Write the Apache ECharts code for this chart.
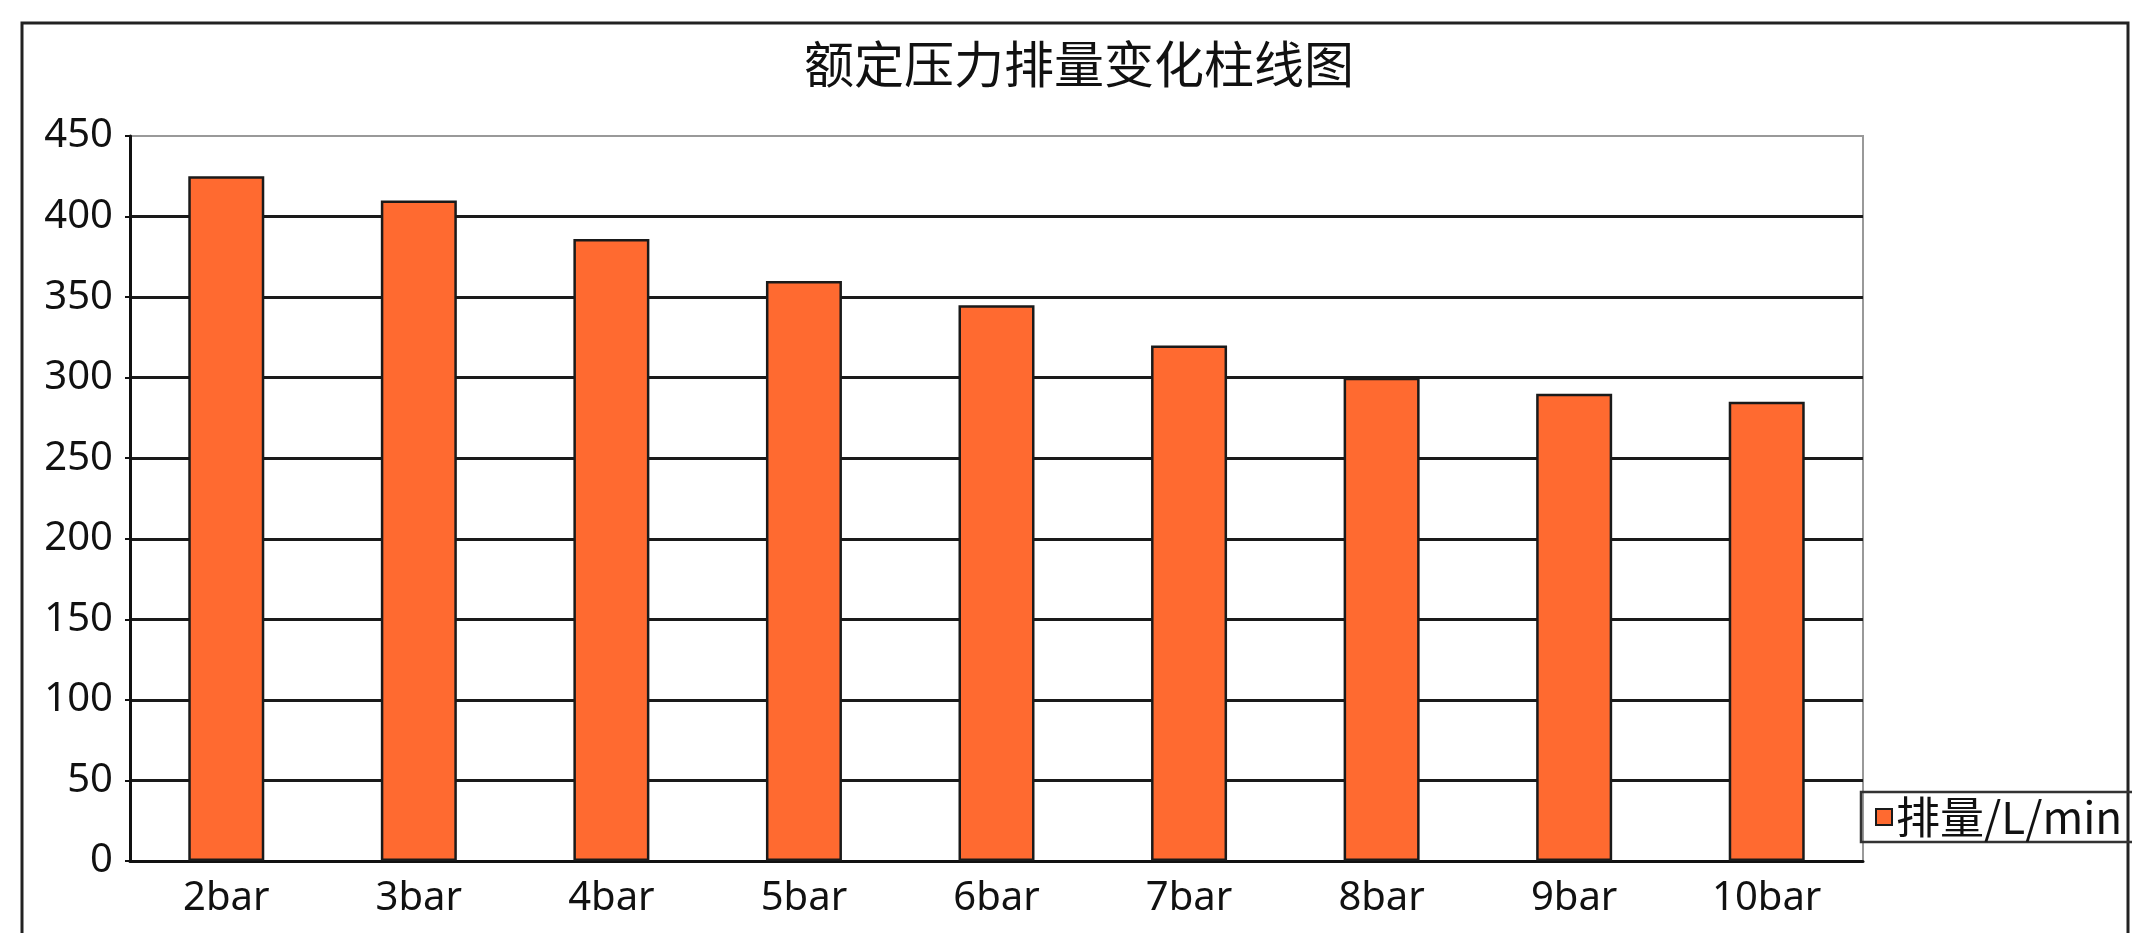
<!DOCTYPE html>
<html>
<head>
<meta charset="utf-8">
<script src="https://cdn.jsdelivr.net/npm/echarts@6/dist/echarts.min.js"></script>
<style>
    html, body { margin: 0; padding: 0; background: #fff; }
    #main { width: 2132px; height: 933px; }
</style>
</head>
<body>
<div id="main"></div>
<script>
    // 额定压力 -> 排量 数据
    var categories = ['2bar', '3bar', '4bar', '5bar', '6bar', '7bar', '8bar', '9bar', '10bar'];
    var flowValues = [425, 410, 386, 360, 345, 320, 300, 290, 285];
    var seriesName = '排量/L/min';
    var titleText = '额定压力排量变化柱线图';

    var chart = echarts.init(document.getElementById('main'));
    var option = {
        backgroundColor: '#fff',
        animation: false,
        title: {
            text: titleText,
            left: 799,
            top: 34,
            textStyle: {
                fontFamily: 'Noto Sans CJK SC',
                fontSize: 50,
                fontWeight: 'normal',
                color: '#111'
            }
        },
        // 外框
        graphic: [{
            type: 'rect',
            shape: { x: 22, y: 23, width: 2106, height: 940 },
            style: { fill: null, stroke: '#222', lineWidth: 3 },
            silent: true,
            z: -1
        }],
        legend: {
            data: [seriesName],
            left: 1861,
            top: 792,
            orient: 'vertical',
            icon: 'rect',
            padding: [3, 30, 3, 14],
            borderColor: '#333',
            borderWidth: 2.5,
            itemWidth: 16,
            itemHeight: 16,
            itemGap: 0,
            textStyle: {
                fontFamily: 'Noto Sans CJK SC',
                fontSize: 44,
                color: '#111',
                padding: [0, 0, 0, -1]
            }
        },
        grid: {
            left: 130,
            right: 269,
            top: 136,
            bottom: 72,
            show: true,
            borderColor: '#999',
            borderWidth: 2,
            containLabel: false
        },
        xAxis: {
            type: 'category',
            data: categories,
            axisLine: { lineStyle: { color: '#111', width: 3 } },
            axisTick: { inside: true, length: 11, lineStyle: { color: '#111', width: 2 } },
            axisLabel: {
                fontFamily: 'Noto Sans',
                fontSize: 40,
                color: '#111',
                margin: 18
            }
        },
        yAxis: {
            type: 'value',
            min: 0,
            max: 450,
            interval: 50,
            axisLine: { show: true, lineStyle: { color: '#111', width: 3 } },
            axisTick: { show: true, length: 5, lineStyle: { color: '#111', width: 2 } },
            axisLabel: {
                fontFamily: 'Noto Sans',
                fontSize: 40,
                color: '#111',
                margin: 17
            },
            splitLine: {
                show: true,
                showMaxLine: false,
                lineStyle: { color: '#1a1a1a', width: 3 }
            }
        },
        series: [{
            name: seriesName,
            type: 'bar',
            barWidth: 76,
            data: flowValues,
            itemStyle: {
                color: '#FF6A30',
                borderColor: '#1a1a1a',
                borderWidth: 2.5
            }
        }]
    };
    chart.setOption(option);
</script>
</body>
</html>
